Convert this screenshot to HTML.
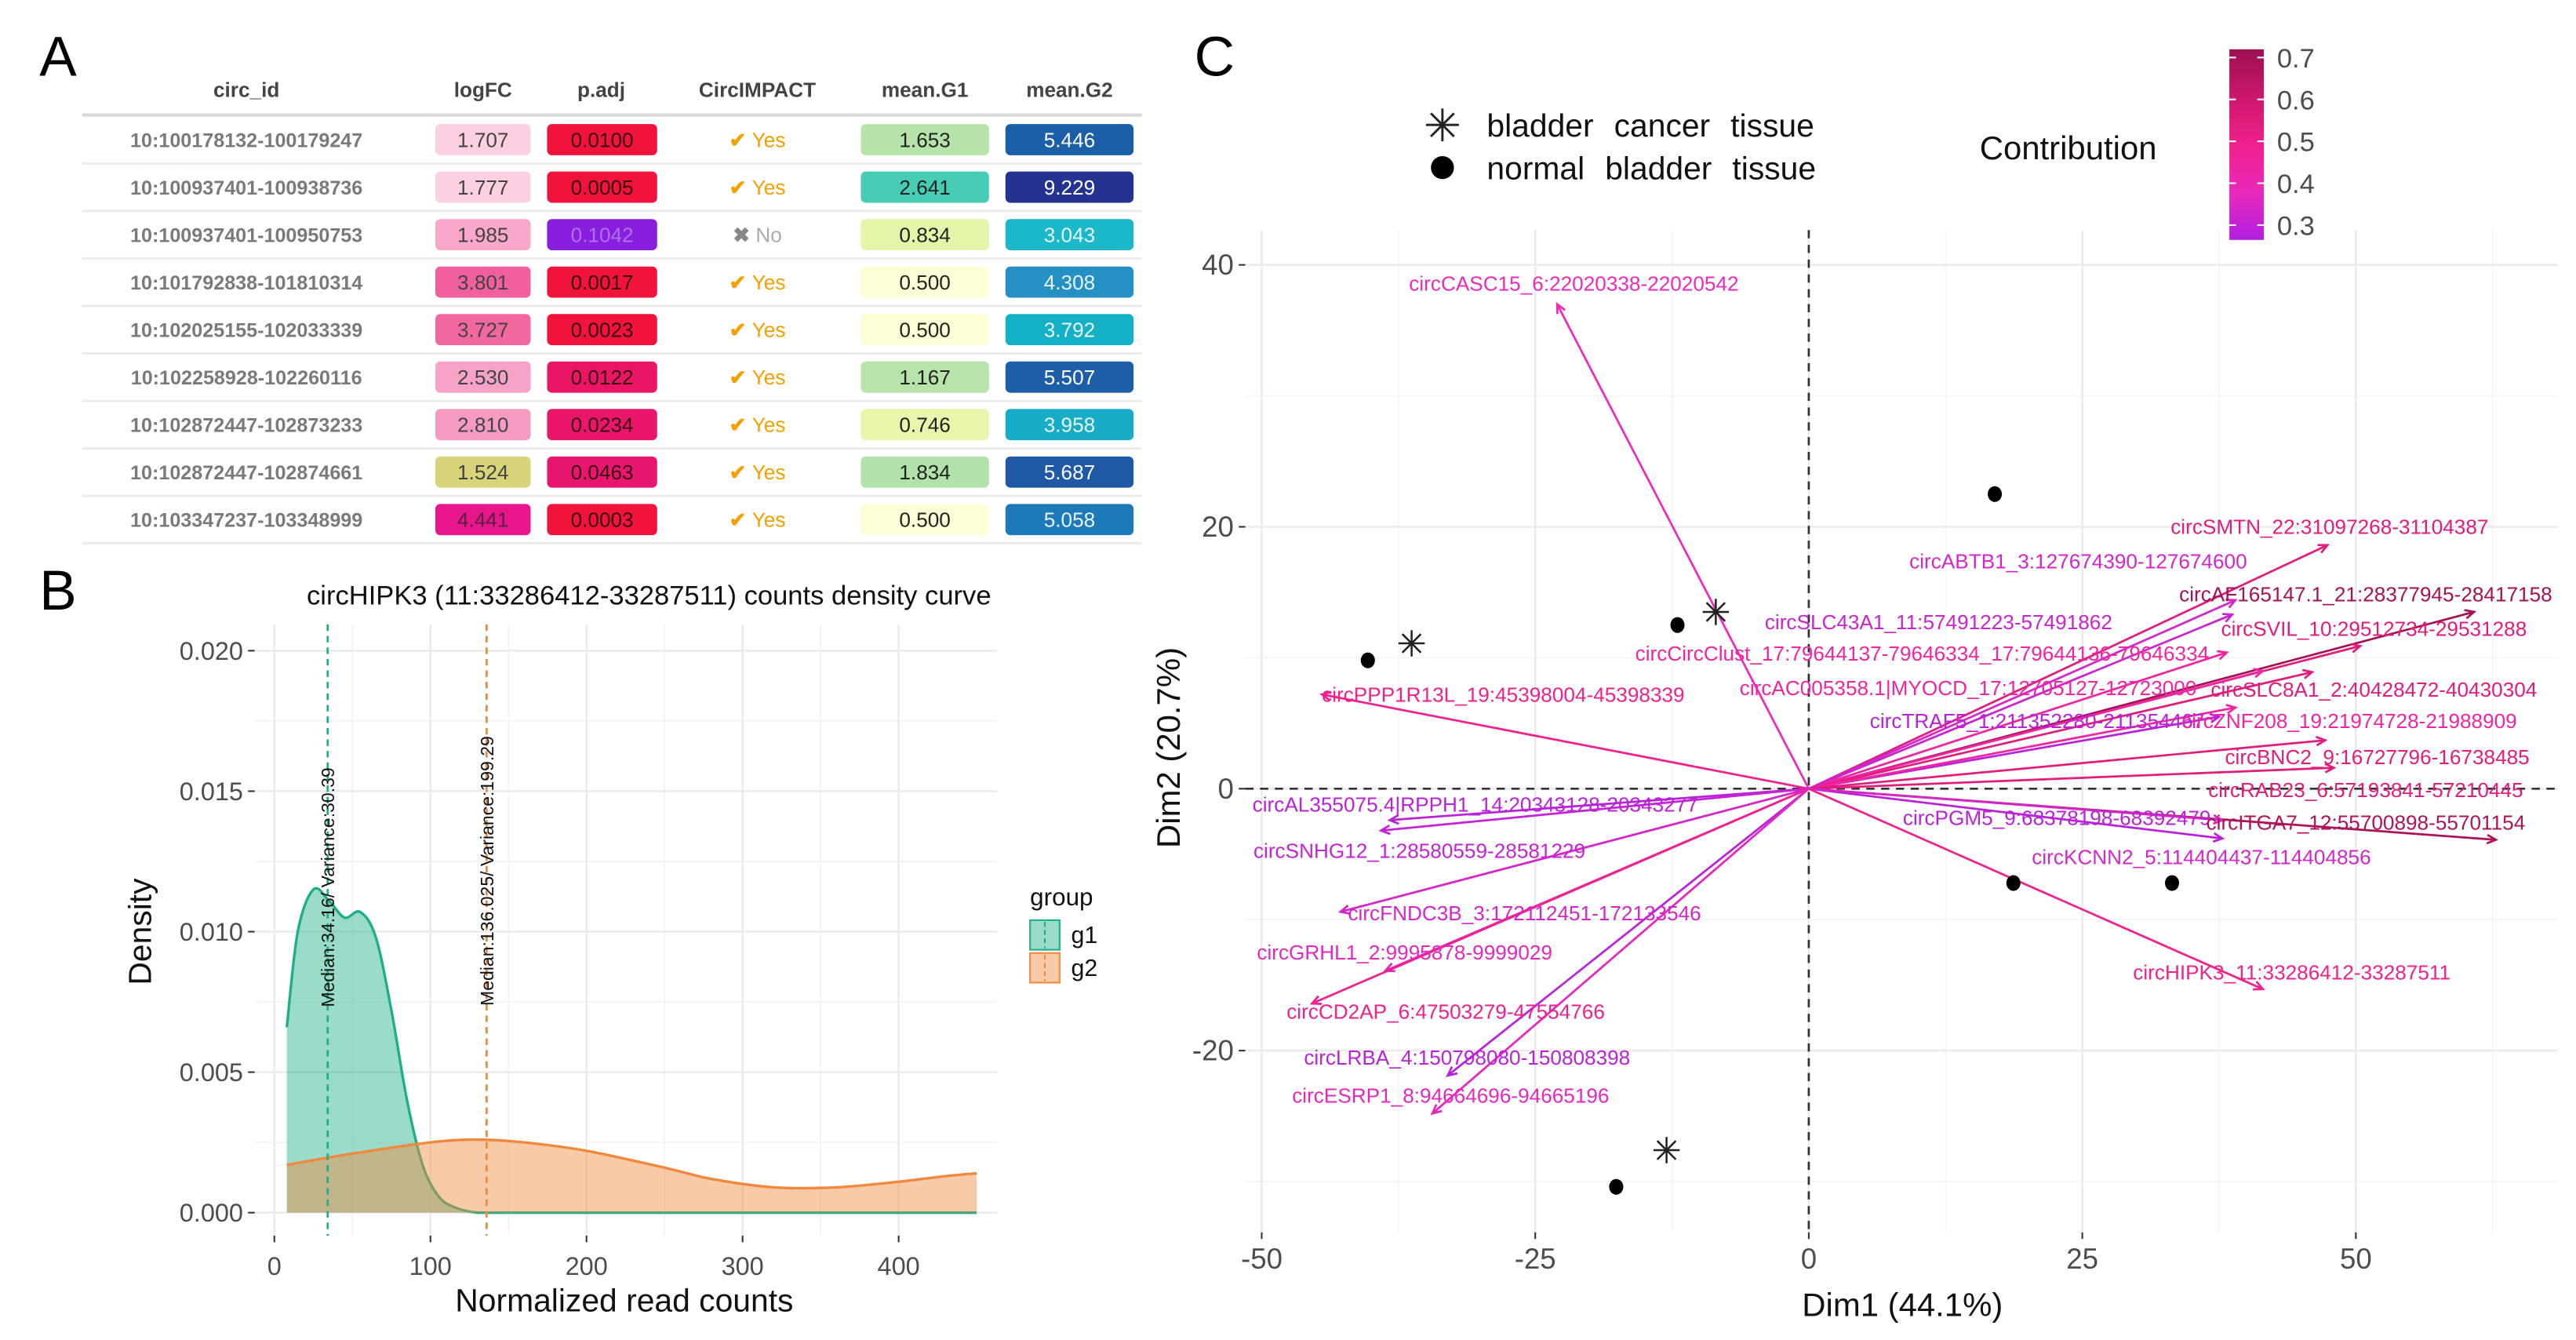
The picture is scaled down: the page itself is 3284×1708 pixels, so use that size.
<!DOCTYPE html>
<html><head><meta charset="utf-8">
<style>
html,body{margin:0;padding:0;background:#fff;}
svg{display:block;font-family:"Liberation Sans",sans-serif;}
.nar{font-family:"Liberation Sans Narrow","Liberation Sans",sans-serif;}
</style></head>
<body>
<svg id="fig" xmlns="http://www.w3.org/2000/svg" width="3284" height="1708" viewBox="0 0 1568 815.5">
<rect x="0" y="0" width="1568" height="816" fill="#fff"/>
<g id="panelA"></g>
<g id="panelB"></g>
<g id="panelC"></g>
</svg>
<script>
// ---------- Panel A data ----------
const circIds=["10:100178132-100179247","10:100937401-100938736","10:100937401-100950753","10:101792838-101810314","10:102025155-102033339","10:102258928-102260116","10:102872447-102873233","10:102872447-102874661","10:103347237-103348999"];
const logFC=["1.707","1.777","1.985","3.801","3.727","2.530","2.810","1.524","4.441"];
const pAdj=["0.0100","0.0005","0.1042","0.0017","0.0023","0.0122","0.0234","0.0463","0.0003"];
const circImpact=["Yes","Yes","No","Yes","Yes","Yes","Yes","Yes","Yes"];
const meanG1=["1.653","2.641","0.834","0.500","0.500","1.167","0.746","1.834","0.500"];
const meanG2=["5.446","9.229","3.043","4.308","3.792","5.507","3.958","5.687","5.058"];
const logFCcol=["#fcd0e2","#fcd0e2","#f9a8cb","#f0609e","#f2679f","#f7a2c8","#f59ac3","#d8d47a","#e8168a"];
const pAdjCol=["#f0143c","#f0143c","#8a1ee0","#f0143c","#f0143c","#ea1565","#e9166b","#e91670","#f0143c"];
const g1Col=["#b6e3aa","#47cdb6","#e2f5a8","#fdfdd6","#fdfdd6","#b8e3aa","#e8f6ac","#b0e2aa","#fdfdd6"];
const g2Col=["#1b5fa9","#23338f","#1ab8c9","#2590c4","#14b1c6","#1d5ea8","#17adc6","#1f58a5","#1e79b8"];

// ---------- Panel B data ----------
const bXTicks=[0,100,200,300,400];
const bYTicks=[0,0.005,0.010,0.015,0.020];
const bYLabels=["0.000","0.005","0.010","0.015","0.020"];
const g1x=[8,15,25,35,45,55,65,75,85,95,105,115,130,150,200,300,450];
const g1y=[0.0066,0.0100,0.0115,0.0111,0.0105,0.0107,0.0098,0.0072,0.0040,0.0017,0.0006,0.0002,0.0000,0,0,0,0];
const g2x=[8,50,100,130,160,200,250,280,320,360,400,430,450];
const g2y=[0.0017,0.0021,0.0025,0.0026,0.0025,0.0022,0.0016,0.0012,0.0009,0.0009,0.0011,0.0013,0.0014];
const medians=[34.16,136.025];
const medLabels=["Median:34.16/ Variance:30.39","Median:136.025/ Variance:199.29"];

// ---------- Panel C data ----------
const cXTicks=[-50,-25,0,25,50];
const cYTicks=[-20,0,20,40];
const indX=[17,-12,-40.3,18.7,33.2,-17.6,-8.5,-36.3,-13];
const indY=[22.5,12.5,9.8,-7.2,-7.2,-30.4,13.5,11.1,-27.6];
const indType=["n","n","n","n","n","n","c","c","c"];
const varNames=["circCASC15_6:22020338-22020542","circPPP1R13L_19:45398004-45398339","circSMTN_22:31097268-31104387","circABTB1_3:127674390-127674600","circAF165147.1_21:28377945-28417158","circSLC43A1_11:57491223-57491862","circSVIL_10:29512734-29531288","circCircClust_17:79644137-79646334_17:79644136-79646334","circAC005358.1|MYOCD_17:12705127-12723000","circSLC8A1_2:40428472-40430304","circTRAF5_1:211352280-211354467","circZNF208_19:21974728-21988909","circBNC2_9:16727796-16738485","circRAB23_6:57193841-57210445","circAL355075.4|RPPH1_14:20343128-20343277","circPGM5_9:68378198-68392479","circITGA7_12:55700898-55701154","circSNHG12_1:28580559-28581229","circKCNN2_5:114404437-114404856","circFNDC3B_3:172112451-172133546","circHIPK3_11:33286412-33287511","circGRHL1_2:9995878-9999029","circCD2AP_6:47503279-47554766","circLRBA_4:150798080-150808398","circESRP1_8:94664696-94665196"];
const varX=[-23,-44.5,47.4,39,60.8,38.7,50.4,38.2,41.5,46,37.5,39,47.2,48,-38.3,37.8,62.8,-39.1,37.8,-42.8,41.5,-38.7,-45.4,-33,-34.4];
const varY=[37,7.2,18.6,14.4,13.5,13.3,10.9,10.4,9,8.9,5.5,6.2,3.7,1.6,-2.4,-3.8,-3.9,-3.2,-2.4,-9.4,-15.3,-13.9,-16.4,-21.9,-24.8];
const contrib=[0.4,0.5,0.55,0.35,0.7,0.33,0.55,0.45,0.45,0.55,0.3,0.45,0.55,0.55,0.3,0.3,0.68,0.32,0.35,0.35,0.5,0.38,0.5,0.3,0.38];
const varLabX=[958,915,1418,1265,1440,1180,1445,1170,1198,1445,1240,1430,1447,1440,898,1252,1440,864,1340,928,1395,855,880,893,883];
const varLabY=[177,427,325,346,366,383,387,402,423,424,443,443,465,485,494,502,505,522,526,560,596,584,620,648,671];
const cbTicks=[0.3,0.4,0.5,0.6,0.7];

const NS="http://www.w3.org/2000/svg";
function mk(tag,attrs,parent,text){const e=document.createElementNS(NS,tag);for(const k in attrs)e.setAttribute(k,attrs[k]);if(text!==undefined)e.textContent=text;parent.appendChild(e);return e;}

// ===== Panel A =====
const A=document.getElementById('panelA');
let t=mk('text',{x:24,y:46,'font-size':34},A,'A');


const heads=[["circ_id",150],["logFC",294],["p.adj",366],["CircIMPACT",461],["mean.G1",563],["mean.G2",651]];
heads.forEach(h=>{const e=mk('text',{x:h[1],y:59,'font-size':12.5,'font-weight':'bold','text-anchor':'middle',fill:'#444'},A,h[0]);

});
mk('line',{x1:50,x2:695,y1:70,y2:70,stroke:'#d8d8d8','stroke-width':2},A);
function cell(x,w,y,fill,txt,tc,name){const g=mk('g',{},A);
mk('rect',{x:x,y:y-9.5,width:w,height:19,rx:3,fill:fill},g);mk('text',{x:x+w/2,y:y+4.5,'text-anchor':'middle','font-size':12.5,fill:tc},g,txt);}
function lum(c){const r=parseInt(c.substr(1,2),16),g=parseInt(c.substr(3,2),16),b=parseInt(c.substr(5,2),16);return 0.299*r+0.587*g+0.114*b;}
circIds.forEach((id,i)=>{const y=85+i*28.9;
 const e=mk('text',{x:150,y:y+4.5,'text-anchor':'middle','font-size':12,'font-weight':'bold',fill:'#7a7a7a'},A,id);
 
 
 cell(265,58,y,logFCcol[i],logFC[i],lum(logFCcol[i])<130?'#5a2040':'#444','logfc-cell');
 cell(333,67,y,pAdjCol[i],pAdj[i],pAdjCol[i]==='#8a1ee0'?'#b070f0':'#3a0010','padj-cell');
 cell(524,78,y,g1Col[i],meanG1[i],'#222','mean-g1-cell');
 cell(612,78,y,g2Col[i],meanG2[i],lum(g2Col[i])<100?'#fff':(lum(g2Col[i])<140?'#e8f4ff':'#123'),'mean-g2-cell');
 const ci=mk('text',{x:461,y:y+4.5,'text-anchor':'middle','font-size':12.5},A);
 
 
 if(circImpact[i]==='Yes'){mk('tspan',{fill:'#f5a000','font-weight':'bold'},ci,'✔ ');mk('tspan',{fill:'#f5a000'},ci,'Yes');}
 else{mk('tspan',{fill:'#888','font-weight':'bold'},ci,'✖ ');mk('tspan',{fill:'#aaa'},ci,'No');}
 mk('line',{x1:50,x2:695,y1:y+14.5,y2:y+14.5,stroke:'#ececec','stroke-width':1.5},A);
});

// ===== Panel B =====
const B=document.getElementById('panelB');
const bx=v=>167+v*0.95, by=v=>738-v*17100;
t=mk('text',{x:24,y:371,'font-size':34},B,'B');


t=mk('text',{x:395,y:368,'font-size':16.5,'text-anchor':'middle',fill:'#111'},B,'circHIPK3 (11:33286412-33287511) counts density curve');


[50,150,250,350].forEach(v=>mk('line',{x1:bx(v),x2:bx(v),y1:380,y2:752,stroke:'#f3f3f3','stroke-width':0.8},B));
[0.0025,0.0075,0.0125,0.0175].forEach(v=>mk('line',{x1:155,x2:607,y1:by(v),y2:by(v),stroke:'#f3f3f3','stroke-width':0.8},B));
bXTicks.forEach(v=>{mk('line',{x1:bx(v),x2:bx(v),y1:380,y2:752,stroke:'#ebebeb','stroke-width':1.2},B);
 mk('line',{x1:bx(v),x2:bx(v),y1:752,y2:756,stroke:'#333'},B);
 const e=mk('text',{x:bx(v),y:776,'font-size':15.5,'text-anchor':'middle',fill:'#4d4d4d'},B,String(v));
 
 });
bYTicks.forEach((v,i)=>{mk('line',{x1:155,x2:607,y1:by(v),y2:by(v),stroke:'#ebebeb','stroke-width':1.2},B);
 mk('line',{x1:151,x2:155,y1:by(v),y2:by(v),stroke:'#333'},B);
 const e=mk('text',{x:148,y:by(v)+5.5,'font-size':15.5,'text-anchor':'end',fill:'#4d4d4d'},B,bYLabels[i]);
 
 });
function smooth(pts){let d='M'+pts[0][0]+','+pts[0][1];
 for(let i=0;i<pts.length-1;i++){const p0=pts[Math.max(0,i-1)],p1=pts[i],p2=pts[i+1],p3=pts[Math.min(pts.length-1,i+2)];
  const c1x=p1[0]+(p2[0]-p0[0])/6,c1y=p1[1]+(p2[1]-p0[1])/6,c2x=p2[0]-(p3[0]-p1[0])/6,c2y=p2[1]-(p3[1]-p1[1])/6;
  d+=' C'+c1x+','+Math.min(c1y,738)+' '+c2x+','+Math.min(c2y,738)+' '+p2[0]+','+p2[1];}
 return d;}
function area(xs,ys,fill,stroke,name){const pts=xs.map((x,i)=>[bx(x),by(ys[i])]);const l=smooth(pts);
 const d=l+' L'+bx(xs[xs.length-1])+','+by(0)+' L'+bx(xs[0])+','+by(0)+' Z';
 const g=mk('g',{},B);
 mk('path',{d:d,fill:fill,'fill-opacity':0.45,stroke:'none'},g);
 mk('path',{d:l,fill:'none',stroke:stroke,'stroke-width':1.6,'stroke-linejoin':'round'},g);}
area(g1x,g1y,'#1fb08a','#1fae8a','density-g1');
area(g2x,g2y,'#f28a3c','#f0883e','density-g2');
const medCols=['#1fae8a','#f0883e'];
medians.forEach((m,i)=>{const x=bx(m);
 const ln=mk('line',{x1:x,x2:x,y1:380,y2:752,stroke:medCols[i],'stroke-width':1.3,'stroke-dasharray':'4,3'},B);
 
 
 const cy=i===0?540:530;
 const e=mk('text',{x:x+4,y:cy,'font-size':11,'text-anchor':'middle',fill:'#111',transform:'rotate(-90 '+(x+4)+' '+cy+')'},B,medLabels[i]);
 
 });
t=mk('text',{x:380,y:798,'font-size':19.5,'text-anchor':'middle',fill:'#111'},B,'Normalized read counts');


t=mk('text',{x:92,y:567,'font-size':19.5,'text-anchor':'middle',fill:'#111',transform:'rotate(-90 92 567)'},B,'Density');


t=mk('text',{x:627,y:551,'font-size':15,fill:'#111'},B,'group');


[['g1','#1fb08a','#1fae8a'],['g2','#f28a3c','#f0883e']].forEach((g,i)=>{const y=560+i*20;
 const lg=mk('g',{},B);
 mk('rect',{x:627,y:y,width:18,height:18,fill:g[1],'fill-opacity':0.45,stroke:g[2],'stroke-width':1},lg);
 mk('line',{x1:636,x2:636,y1:y+1,y2:y+17,stroke:g[2],'stroke-dasharray':'3,2'},lg);
 mk('text',{x:652,y:y+14,'font-size':14.5,fill:'#111'},lg,g[0]);});

// ===== Panel C =====
const C=document.getElementById('panelC');
const cx=v=>1101+v*6.66, cy=v=>480-v*7.97;
t=mk('text',{x:727,y:46,'font-size':34},C,'C');


[-37.5,-12.5,12.5,37.5,62.5].forEach(v=>mk('line',{x1:cx(v),x2:cx(v),y1:140,y2:750,stroke:'#f4f4f4','stroke-width':0.8},C));
[-30,-10,10,30].forEach(v=>mk('line',{x1:758,x2:1557,y1:cy(v),y2:cy(v),stroke:'#f4f4f4','stroke-width':0.8},C));
cXTicks.forEach(v=>{mk('line',{x1:cx(v),x2:cx(v),y1:140,y2:750,stroke:'#ebebeb','stroke-width':1.2},C);
 mk('line',{x1:cx(v),x2:cx(v),y1:750,y2:754,stroke:'#333'},C);
 const e=mk('text',{x:cx(v),y:772,'font-size':17.5,'text-anchor':'middle',fill:'#4d4d4d'},C,String(v));
 
 });
cYTicks.forEach(v=>{mk('line',{x1:758,x2:1557,y1:cy(v),y2:cy(v),stroke:'#ebebeb','stroke-width':1.2},C);
 mk('line',{x1:754,x2:758,y1:cy(v),y2:cy(v),stroke:'#333'},C);
 const e=mk('text',{x:751,y:cy(v)+6,'font-size':17.5,'text-anchor':'end',fill:'#4d4d4d'},C,String(v));
 
 });
mk('line',{x1:cx(0),x2:cx(0),y1:140,y2:750,stroke:'#333','stroke-width':1.3,'stroke-dasharray':'5,4'},C);
mk('line',{x1:758,x2:1557,y1:cy(0),y2:cy(0),stroke:'#333','stroke-width':1.3,'stroke-dasharray':'5,4'},C);
function ccol(v){const stops=[[0.28,[176,32,224]],[0.4,[238,42,184]],[0.5,[240,32,140]],[0.6,[208,24,110]],[0.72,[156,16,80]]];
 if(v<=stops[0][0])return 'rgb('+stops[0][1]+')';
 for(let i=1;i<stops.length;i++){if(v<=stops[i][0]){const f=(v-stops[i-1][0])/(stops[i][0]-stops[i-1][0]);const a=stops[i-1][1],b=stops[i][1];
 return 'rgb('+a.map((c,k)=>Math.round(c+(b[k]-c)*f)).join(',')+')';}}
 return 'rgb('+stops[stops.length-1][1]+')';}
const defs=mk('defs',{},C);
varNames.forEach((n,i)=>{const col=ccol(contrib[i]);
 const x2=cx(varX[i]),y2=cy(varY[i]),x1=cx(0),y1=cy(0);
 const ang=Math.atan2(y2-y1,x2-x1),h=6;
 const g=mk('g',{},C);
 
 
 mk('line',{x1:x1,y1:y1,x2:x2,y2:y2,stroke:col,'stroke-width':1.3},g);
 mk('path',{d:'M'+(x2-h*Math.cos(ang-0.45))+','+(y2-h*Math.sin(ang-0.45))+' L'+x2+','+y2+' L'+(x2-h*Math.cos(ang+0.45))+','+(y2-h*Math.sin(ang+0.45)),fill:'none',stroke:col,'stroke-width':1.3},g);
});
varNames.forEach((n,i)=>{const col=ccol(contrib[i]);
 const e=mk('text',{x:varLabX[i],y:varLabY[i],'font-size':12.5,'text-anchor':'middle',fill:col,class:'nar'},C,n);
 
 });
function star(x,y,r,parent,sw){for(let k=0;k<4;k++){const a=k*Math.PI/4+Math.PI/2;mk('line',{x1:x-r*Math.cos(a),y1:y-r*Math.sin(a),x2:x+r*Math.cos(a),y2:y+r*Math.sin(a),stroke:'#222','stroke-width':sw},parent);}}
indX.forEach((v,i)=>{const g=mk('g',{},C);
 
 
 if(indType[i]==='c')star(cx(v),cy(indY[i]),8,g,1.2);
 else mk('ellipse',{cx:cx(v),cy:cy(indY[i]),rx:4.3,ry:4.8,fill:'#000'},g);});
t=mk('text',{x:1158,y:801,'font-size':20,'text-anchor':'middle',fill:'#111'},C,'Dim1 (44.1%)');


t=mk('text',{x:718,y:455,'font-size':20,'text-anchor':'middle',fill:'#111',transform:'rotate(-90 718 455)'},C,'Dim2 (20.7%)');


let lg=mk('g',{},C);
star(878,76,10,lg,1.4);mk('text',{x:905,y:83,'font-size':19.5,fill:'#111','word-spacing':7},lg,'bladder cancer tissue');
lg=mk('g',{},C);
mk('circle',{cx:878,cy:102,r:7,fill:'#000'},lg);mk('text',{x:905,y:109,'font-size':19.5,fill:'#111','word-spacing':7},lg,'normal bladder tissue');
t=mk('text',{x:1205,y:97,'font-size':20,fill:'#111'},C,'Contribution');


const grad=mk('linearGradient',{id:'cbg',x1:0,y1:1,x2:0,y2:0},defs);
[0,0.25,0.5,0.75,1].forEach(f=>mk('stop',{offset:f,'stop-color':ccol(0.28+f*0.44)},grad));
const cb=mk('rect',{x:1357,y:30,width:21,height:116,fill:'url(#cbg)'},C);


cbTicks.forEach(v=>{const y=137-(v-0.3)*255;
 mk('line',{x1:1357,x2:1361,y1:y,y2:y,stroke:'#fff'},C);mk('line',{x1:1374,x2:1378,y1:y,y2:y,stroke:'#fff'},C);
 const e=mk('text',{x:1386,y:y+6,'font-size':16.5,fill:'#4d4d4d'},C,v.toFixed(1));
 
 });
</script>
</body></html>
